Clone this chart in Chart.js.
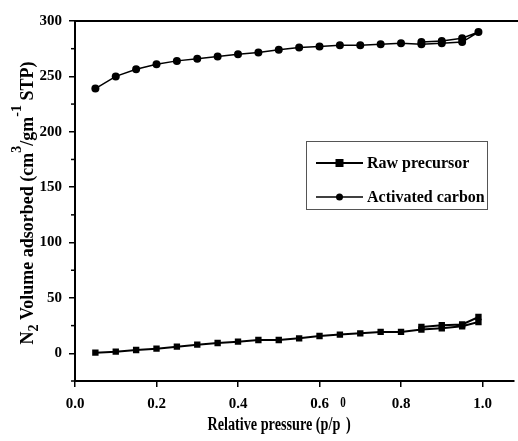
<!DOCTYPE html>
<html>
<head>
<meta charset="utf-8">
<script src="https://cdn.jsdelivr.net/npm/chart.js@4"></script>
<style>
  html, body { margin: 0; padding: 0; background: #fff; }
  #wrap { width: 518px; height: 441px; }
</style>
</head>
<body>
<div id="wrap"><canvas id="isotherm"></canvas></div>
<script>
// relative pressure p/p0 (adsorption up, then desorption back down)
var pressureRaw = [0.05, 0.10, 0.15, 0.20, 0.25, 0.30, 0.35, 0.40, 0.45, 0.50, 0.55, 0.60, 0.65, 0.70, 0.75, 0.80, 0.85, 0.90, 0.95, 0.99, 0.99, 0.95, 0.90, 0.85];
var volumeRaw = [0.6, 1.5, 3.0, 4.2, 6.0, 7.8, 9.3, 10.5, 12.0, 12.0, 13.5, 15.6, 16.9, 18.0, 19.3, 19.3, 21.4, 22.6, 24.4, 28.3, 32.8, 26.0, 25.3, 23.8];

var pressureAC = [0.05, 0.10, 0.15, 0.20, 0.25, 0.30, 0.35, 0.40, 0.45, 0.50, 0.55, 0.60, 0.65, 0.70, 0.75, 0.80, 0.85, 0.90, 0.95, 0.99, 0.95, 0.90, 0.85];
var volumeAC = [239, 250, 256.5, 261, 264, 266, 268, 270, 271.5, 274, 276, 277, 278, 278, 279, 280, 279, 280, 281, 290, 284.5, 282, 281];

var xTicks = [0.0, 0.2, 0.4, 0.6, 0.8, 1.0];
var yTicks = [0, 50, 100, 150, 200, 250, 300];
var yMinor = [-25, 25, 75, 125, 175, 225, 275];

var seriesNames = ['Raw precursor', 'Activated carbon'];

var serif = '"Liberation Serif", "DejaVu Serif", serif';

function toPoints(xs, ys) {
  return xs.map(function (x, i) { return { x: x, y: ys[i] }; });
}

// draws text runs with sub/superscripts, centred on (0,0) along the baseline
function richText(ctx, runs, size) {
  var small = Math.round(size * 0.8);
  var total = 0;
  runs.forEach(function (r) {
    ctx.font = 'bold ' + (r.s ? small : size) + 'px ' + serif;
    r.w = ctx.measureText(r.t).width;
    total += r.w;
  });
  var x = -total / 2;
  runs.forEach(function (r) {
    ctx.font = 'bold ' + (r.s ? small : size) + 'px ' + serif;
    var dy = r.dy !== undefined ? r.dy : (r.s === 'sub' ? size * 0.3 : (r.s === 'sup' ? -size * 0.55 : 0));
    ctx.fillText(r.t, x, dy);
    x += r.w;
  });
}

var decorations = {
  id: 'decorations',
  afterDraw: function (chart) {
    var ctx = chart.ctx;
    var area = chart.chartArea;
    var ys = chart.scales.y;
    ctx.save();
    ctx.strokeStyle = '#000';
    ctx.fillStyle = '#000';

    // top frame line
    ctx.lineWidth = 2;
    ctx.beginPath();
    ctx.moveTo(area.left - 1, area.top);
    ctx.lineTo(chart.width, area.top);
    ctx.stroke();

    // minor ticks on y
    ctx.lineWidth = 1.5;
    yMinor.forEach(function (v) {
      var py = ys.getPixelForValue(v);
      ctx.beginPath();
      ctx.moveTo(area.left - 4, py);
      ctx.lineTo(area.left, py);
      ctx.stroke();
    });

    // axis titles
    ctx.textBaseline = 'alphabetic';
    ctx.save();
    ctx.translate(33, 203);
    ctx.rotate(-Math.PI / 2);
    richText(ctx, [
      { t: 'N' }, { t: '2', s: 'sub' }, { t: ' Volume adsorbed (cm' },
      { t: '3', s: 'sup', dy: -12 }, { t: '/gm' }, { t: '-1', s: 'sup', dy: -12 }, { t: ' STP)' }
    ], 18);
    ctx.restore();

    ctx.save();
    ctx.translate(279, 430);
    ctx.scale(0.79, 1);
    richText(ctx, [
      { t: 'Relative pressure (p/p' }, { t: '0', s: 'sup', dy: -23 }, { t: ')' }
    ], 18);
    ctx.restore();

    // legend box
    var bx = 306, by = 141, bw = 181, bh = 68;
    ctx.lineWidth = 1;
    ctx.strokeStyle = '#555';
    ctx.strokeRect(bx + 0.5, by + 0.5, bw, bh);
    ctx.strokeStyle = '#000';
    var rows = [by + 22, by + 56];
    rows.forEach(function (ry, i) {
      ctx.lineWidth = i === 0 ? 2 : 1.5;
      ctx.beginPath();
      ctx.moveTo(bx + 10, ry);
      ctx.lineTo(bx + 57, ry);
      ctx.stroke();
      if (i === 0) {
        ctx.fillRect(bx + 29.5, ry - 4, 8, 8);
      } else {
        ctx.beginPath();
        ctx.arc(bx + 33.5, ry, 3.5, 0, Math.PI * 2);
        ctx.fill();
      }
      ctx.font = 'bold 16px ' + serif;
      ctx.textBaseline = 'middle';
      ctx.fillText(seriesNames[i], bx + 61, ry + 1);
    });
    ctx.restore();
  }
};

var data = {
  datasets: [{
    label: seriesNames[0],
    data: toPoints(pressureRaw, volumeRaw),
    showLine: true,
    borderColor: '#000',
    backgroundColor: '#000',
    borderWidth: 2,
    pointStyle: 'rect',
    pointRadius: 4.5,
    pointBorderWidth: 0
  }, {
    label: seriesNames[1],
    data: toPoints(pressureAC, volumeAC),
    showLine: true,
    borderColor: '#000',
    backgroundColor: '#000',
    borderWidth: 1.5,
    pointStyle: 'circle',
    pointRadius: 4,
    pointBorderWidth: 0
  }]
};

var tickFont = { family: serif, size: 15, weight: 'bold' };

var config = {
  type: 'scatter',
  data: data,
  options: {
    responsive: false,
    animation: false,
    layout: { padding: { top: 21, right: 0, bottom: 0, left: 0 } },
    plugins: { legend: { display: false }, tooltip: { enabled: false } },
    scales: {
      x: {
        type: 'linear',
        min: 0,
        max: 1.076,
        border: { color: '#000', width: 2 },
        grid: { drawOnChartArea: false, drawTicks: true, tickLength: 6, color: '#000', lineWidth: 1.5 },
        ticks: {
          color: '#000', font: tickFont, padding: 8, maxRotation: 0,
          callback: function (v) { return v.toFixed(1); }
        },
        afterBuildTicks: function (s) { s.ticks = xTicks.map(function (v) { return { value: v }; }); },
        afterFit: function (s) { s.height = 60; }
      },
      y: {
        type: 'linear',
        min: -25,
        max: 300,
        border: { color: '#000', width: 2 },
        grid: { drawOnChartArea: false, drawTicks: true, tickLength: 6, color: '#000', lineWidth: 1.5 },
        ticks: { color: '#000', font: tickFont, padding: 7 },
        afterBuildTicks: function (s) { s.ticks = yTicks.map(function (v) { return { value: v }; }); },
        afterFit: function (s) { s.width = 75; }
      }
    }
  },
  plugins: [decorations]
};

var canvas = document.getElementById('isotherm');
canvas.width = 518;
canvas.height = 441;
new Chart(canvas.getContext('2d'), config);
</script>
</body>
</html>
